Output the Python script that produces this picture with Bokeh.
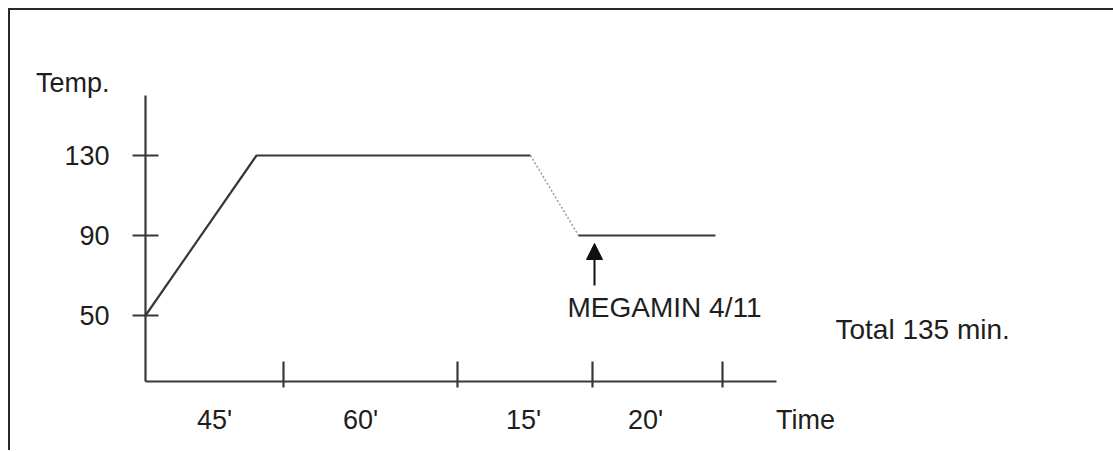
from bokeh.plotting import figure
from bokeh.models import Range1d, FixedTicker, Label, Arrow, NormalHead
from bokeh.layouts import column
from bokeh.embed import file_html
from bokeh.resources import INLINE

# ---- data (schematic positions along the time axis, temperature in deg) ----
profile_x = [0, 111, 385, 433, 570]          # schematic time positions of profile vertices
profile_temp = [50, 130, 130, 90, 90]        # temperature at those vertices
temp_ticks = [50, 90, 130]
temp_axis = [17, 160]                        # extent of the temperature axis
time_axis = [0, 631]                         # extent of the time axis
phase_bounds = [138, 312, 447, 577]          # tick marks between phases
phase_centers = [69, 215, 378, 500]          # where the phase durations are written
phase_labels = ["45'", "60'", "15'", "20'"]
time_title_pos = 660
temp_title_pos = 166.5
dose_x = 449                                  # where the MEGAMIN dose is added
dose_temp = [65, 86]                          # arrow tail / head
dose_label = "MEGAMIN 4/11"
total_label = "Total 135 min."

FONT = "Liberation Sans"
INK = "#383838"
TXT = "#1e1e1e"

p = figure(width=1103, height=440, output_backend="svg", toolbar_location=None,
           x_range=Range1d(-20, 968), y_range=Range1d(10, 202.5),
           min_border_left=115, min_border_bottom=55, min_border_top=0, min_border_right=0,
           background_fill_color="white", border_fill_color="white",
           outline_line_color=None)
p.grid.visible = False

# y axis: Bokeh axis carries the labels (and the "Temp." title at the top)
ya = p.yaxis[0]
ya.ticker = FixedTicker(ticks=temp_ticks + [temp_title_pos])
ya.major_label_overrides = {temp_title_pos: "Temp."}
ya.axis_line_color = None
ya.major_tick_line_color = None
ya.minor_tick_line_color = None
ya.major_tick_in = 0
ya.major_tick_out = 0
ya.major_label_standoff = 16
ya.major_label_text_font = FONT
ya.major_label_text_font_size = "27px"
ya.major_label_text_color = TXT

# x axis: labels at phase centers plus the "Time" title
xa = p.xaxis[0]
xa.ticker = FixedTicker(ticks=phase_centers + [time_title_pos])
xa.major_label_overrides = dict(zip(phase_centers + [time_title_pos], phase_labels + ["Time"]))
xa.axis_line_color = None
xa.major_tick_line_color = None
xa.minor_tick_line_color = None
xa.major_tick_in = 0
xa.major_tick_out = 0
xa.major_label_standoff = 9
xa.major_label_text_font = FONT
xa.major_label_text_font_size = "27px"
xa.major_label_text_color = TXT

# axis lines and tick marks, drawn in data space
p.segment(x0=[time_axis[0], time_axis[0]], y0=[temp_axis[0], temp_axis[0]],
          x1=[time_axis[0], time_axis[1]], y1=[temp_axis[1], temp_axis[0]],
          line_color=INK, line_width=2.2)
p.segment(x0=[time_axis[0] - 13] * len(temp_ticks), y0=temp_ticks,
          x1=[time_axis[0] + 13] * len(temp_ticks), y1=temp_ticks,
          line_color=INK, line_width=2.2)
p.segment(x0=phase_bounds, y0=[temp_axis[0] + 10] * len(phase_bounds),
          x1=phase_bounds, y1=[temp_axis[0] - 3] * len(phase_bounds),
          line_color=INK, line_width=2.2)

# temperature profile
p.line(profile_x[0:3], profile_temp[0:3], line_color=INK, line_width=2.2)
p.line(profile_x[2:4], profile_temp[2:4], line_color="#9a9a9a", line_width=1.5,
       line_dash="2 2")
p.line(profile_x[3:5], profile_temp[3:5], line_color=INK, line_width=2.2)

# dose arrow
p.add_layout(Arrow(end=NormalHead(size=16, fill_color="#111", line_color="#111"),
                   x_start=dose_x, y_start=dose_temp[0], x_end=dose_x, y_end=dose_temp[1],
                   line_color="#111", line_width=2))

def lab(x, y, t, size="28px"):
    p.add_layout(Label(x=x, y=y, text=t, text_font=FONT, text_font_size=size,
                       text_color=TXT, text_baseline="alphabetic", text_align="left"))

lab(422, 54, dose_label)
lab(690, 43, total_label)

layout = column(p, styles={"margin-left": "8px", "margin-top": "8px",
                           "border-left": "2px solid #2a2a2a",
                           "border-top": "2px solid #2a2a2a"})

open("out.html", "w").write(file_html(layout, INLINE))
